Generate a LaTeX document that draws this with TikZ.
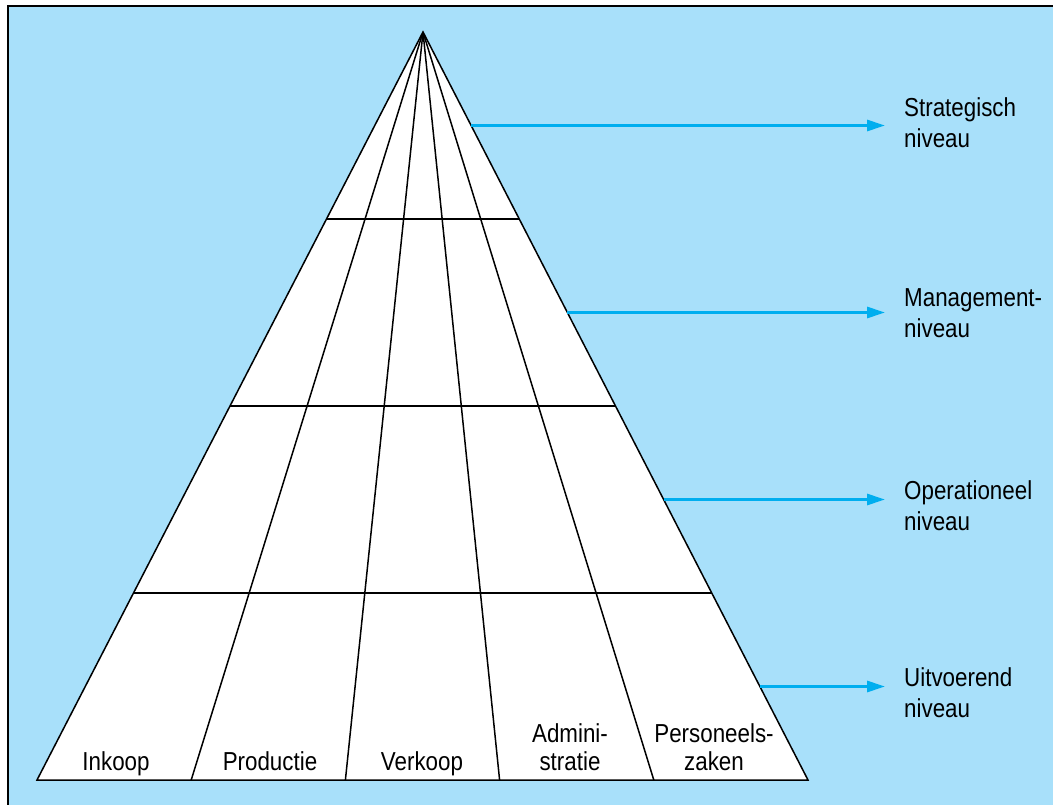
\documentclass[tikz,border=0pt]{standalone}
\usepackage{fontspec}
\setmainfont[FakeStretch=0.86]{Liberation Sans}
\usetikzlibrary{calc,arrows.meta}
\definecolor{skyfill}{RGB}{168,224,250}
\definecolor{arrowblue}{RGB}{0,174,239}
\begin{document}
\begin{tikzpicture}[x=1pt,y=-1pt,
  lvlarrow/.style={draw=arrowblue, line width=3pt, -{Triangle[length=18pt,width=11pt]}},
  gridline/.style={line width=1.5pt, line join=miter},
  collabel/.style={font=\fontsize{26}{28}\selectfont, align=center, inner sep=0pt, anchor=base},
  levellabel/.style={font=\fontsize{26}{31}\selectfont, align=left, inner sep=0pt, anchor=base west}]

% frame and background
\useasboundingbox (0,0) rectangle (1053,805);
\fill[white] (0,0) rectangle (1053,805);
\fill[skyfill] (8,6) rectangle (1053,805);
\draw[line width=2pt] (8,805) -- (8,6) -- (1053,6);

% pyramid corners and column feet
\coordinate (apex) at (423,32);
\foreach \i in {0,...,5} \coordinate (b\i) at ({37+\i*154.2},780);
\fill[white] (apex) -- (b0) -- (b5) -- cycle;

% horizontal level boundaries
\foreach \t/\n in {0.25/1,0.5/2,0.75/3} {
  \coordinate (ll\n) at ($(apex)!\t!(b0)$);
  \coordinate (lr\n) at ($(apex)!\t!(b5)$);
  \draw[gridline] (ll\n) -- (lr\n);
}
% column dividers
\foreach \i in {1,...,4} \draw[gridline] (apex) -- (b\i);
\draw[gridline] (apex) -- (b0) -- (b5) -- cycle;

% arrows from each level to its label
\coordinate (tipx) at (885,0);
\foreach \t/\n in {0.125/s,0.375/m,0.625/o,0.875/u} {
  \coordinate (e\n) at ($(apex)!\t!(b5)$);
  \draw[lvlarrow] (e\n) -- (e\n -| tipx);
}

% level labels (anchored on the baseline of the last line)
\node[levellabel] (ls) at (904,147.7) {Strategisch\\niveau};
\node[levellabel] (lm) at (904,337.7) {Management-\\niveau};
\node[levellabel] (lo) at (904,530) {Operationeel\\niveau};
\node[levellabel] (lu) at (904,717.7) {Uitvoerend\\niveau};

% column labels
\node[collabel] (c1) at (116,770.7) {Inkoop};
\node[collabel] (c2) at (270,770.7) {Productie};
\node[collabel] (c3) at (422,770.7) {Verkoop};
\node[collabel] (c4) at (570,770.7) {Admini-\\stratie};
\node[collabel] (c5) at (714,770.7) {Personeels-\\zaken};
\end{tikzpicture}
\end{document}
